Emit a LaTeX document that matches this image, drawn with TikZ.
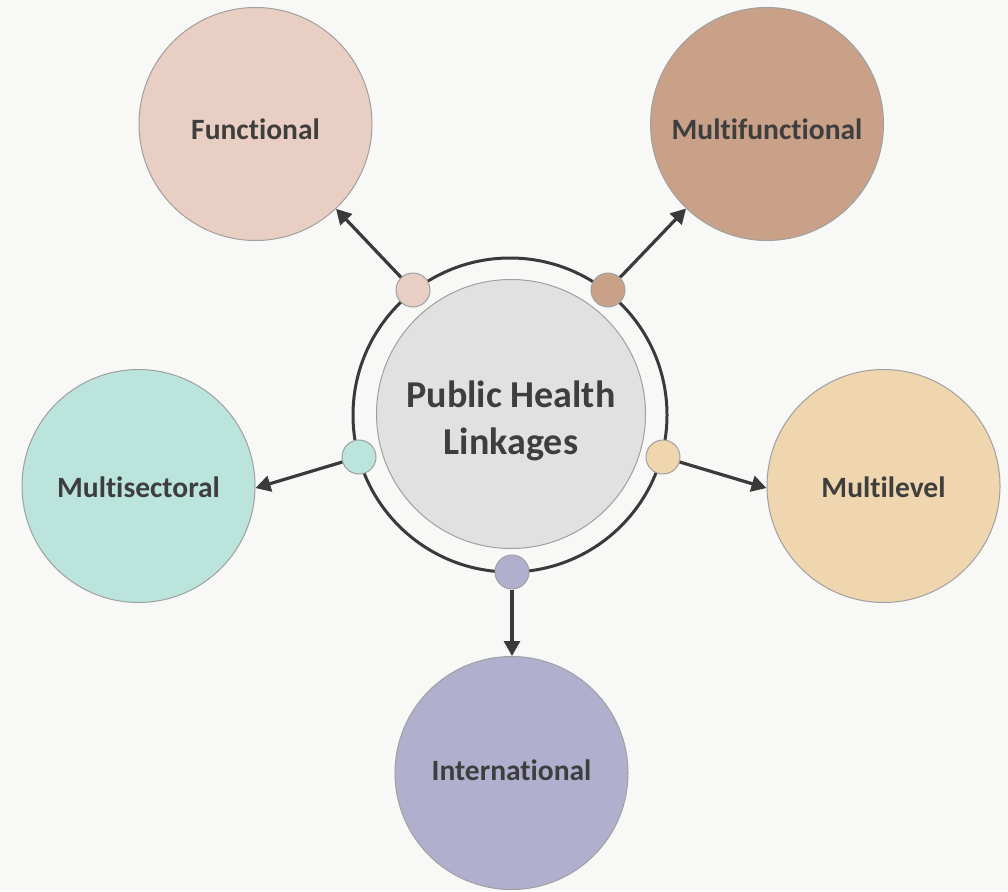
\documentclass[tikz,border=0pt]{standalone}
\usepackage{fontspec}
\setmainfont{Carlito}[Ligatures=NoCommon]
\usetikzlibrary{arrows.meta}
\definecolor{bgc}{HTML}{F8F8F7}
\definecolor{txt}{HTML}{3E3E3E}
\definecolor{lnc}{HTML}{3A3A3A}
\definecolor{bord}{HTML}{A0A0A0}
\definecolor{cfun}{HTML}{E8CEC3}
\definecolor{cmfun}{HTML}{C9A088}
\definecolor{csec}{HTML}{BAE4DC}
\definecolor{clev}{HTML}{F0D6AE}
\definecolor{cint}{HTML}{B0B0CE}
\definecolor{ccen}{HTML}{E1E1E1}
\tikzset{
  big/.style={circle, draw=bord, line width=1pt, minimum size=233pt, inner sep=0pt,
    font=\bfseries\fontsize{29.5}{34}\selectfont, text=txt, text depth=0pt},
  dot/.style={circle, draw=bord, line width=1pt, minimum size=34pt, inner sep=0pt},
  arr/.style={draw=lnc, line width=3.2pt, -{Triangle[length=15pt,width=16pt]}},
}
\begin{document}
\begin{tikzpicture}[x=1pt,y=-1pt]
\fill[bgc] (0,0) rectangle (1008,891);
\useasboundingbox (0,0) rectangle (1008,891);
% ring
\draw[lnc, line width=3pt] (510,415) circle[radius=157];
% center
\node[circle, draw=bord, line width=1pt, fill=ccen, minimum size=269pt, inner sep=0pt,
  label={[font=\bfseries\fontsize{38}{47}\selectfont, text=txt, align=center, yshift=-6.5pt]center:{Public Health\\Linkages}}]
  (cen) at (511,414) {};
% outer circles
\node[big, fill=cfun, text height=31pt] (func) at (255.5,124) {Functional};
\node[big, fill=cmfun, text height=31pt] (mfun) at (767,124) {Multifunctional};
\node[big, fill=csec, text height=23pt] (msec) at (138.5,486) {Multisectoral};
\node[big, fill=clev, text height=23pt] (mlev) at (883.5,486) {Multilevel};
\node[big, fill=cint, text height=14pt] (intl) at (511.5,773) {International};
% dots
\node[dot, fill=cfun] (d1) at (413,290) {};
\node[dot, fill=cmfun] (d2) at (608,290) {};
\node[dot, fill=csec] (d3) at (359,457) {};
\node[dot, fill=clev] (d4) at (663,457) {};
\node[dot, fill=cint] (d5) at (512,572) {};
% arrows
\draw[arr] (d1) -- (func);
\draw[arr] (d2) -- (mfun);
\draw[arr] (d3) -- (msec.-1);
\draw[arr] (d4) -- (mlev.181);
\draw[arr] (d5) -- (d5 |- intl.north);
\end{tikzpicture}
\end{document}
